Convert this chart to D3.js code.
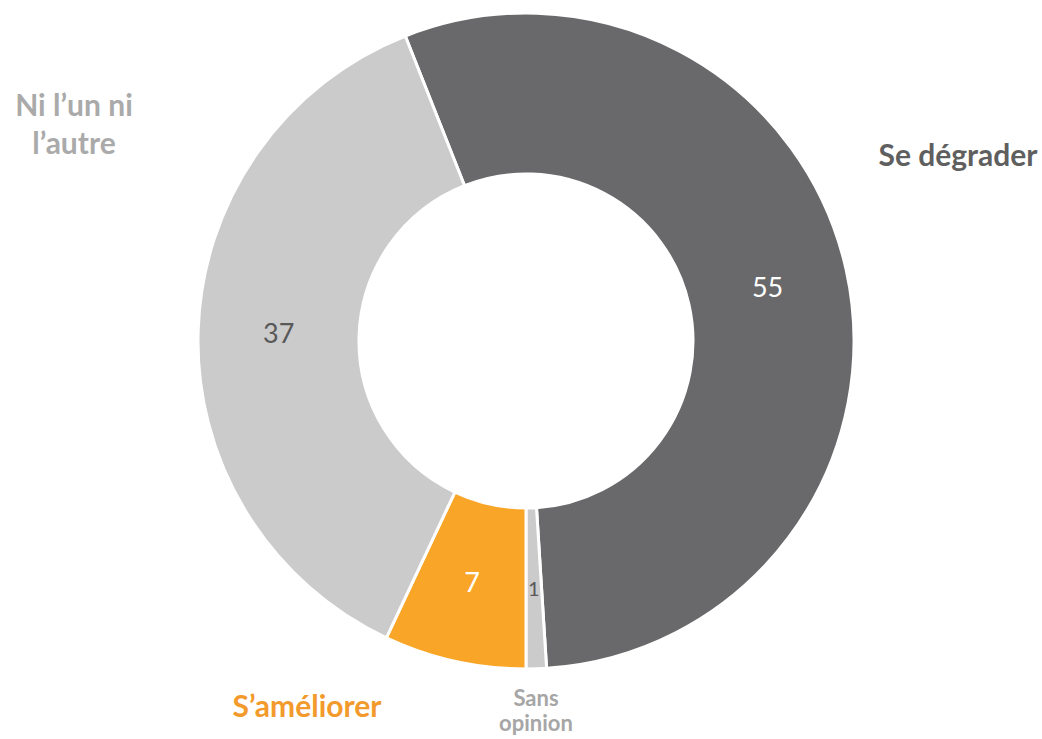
<!DOCTYPE html>
<html>
<head>
<meta charset="utf-8">
<script src="https://cdn.jsdelivr.net/npm/d3@7"></script>
<style>
html,body{margin:0;padding:0;background:#fff;}
svg{display:block;}
</style>
</head>
<body>
<svg id="chart" width="1042" height="739"></svg>
<script>
const categories = ["Se dégrader", "Sans opinion", "S’améliorer", "Ni l’un ni l’autre"];
const values = [55, 1, 7, 37];
const sliceColors = ["#69696b", "#cbcbcb", "#f9a628", "#cbcbcb"];
const valueColors = ["#ffffff", "#595959", "#ffffff", "#595959"];
const labelLines = [["Se dégrader"], ["Sans", "opinion"], ["S’améliorer"], ["Ni l’un ni", "l’autre"]];
const labelColors = ["#5f5f5f", "#a6a6a6", "#f39a2c", "#aaaaaa"];

const W = 1042, H = 739;
const cx = 526, cy = 341, outerR = 328, innerR = 167;
const startDeg = -21.6;

const svg = d3.select("#chart");
const g = svg.append("g").attr("transform", `translate(${cx},${cy})`);

const pie = d3.pie().sort(null).value(d => d)
  .startAngle(startDeg * Math.PI / 180)
  .endAngle((startDeg + 360) * Math.PI / 180);
const arcs = pie(values);
const arc = d3.arc().innerRadius(innerR).outerRadius(outerR);

g.selectAll("path.slice").data(arcs).enter().append("path")
  .attr("class", "slice")
  .attr("d", arc)
  .attr("fill", (d, i) => sliceColors[i])
  .attr("stroke", "#ffffff")
  .attr("stroke-width", 3)
  .attr("stroke-linejoin", "miter");

g.selectAll("text.val").data(arcs).enter().append("text")
  .attr("class", "val")
  .attr("x", d => arc.centroid(d)[0])
  .attr("y", d => arc.centroid(d)[1])
  .attr("dy", "0.36em")
  .attr("text-anchor", "middle")
  .attr("font-family", "Lato, 'Open Sans', sans-serif")
  .attr("font-size", (d, i) => i === 1 ? 20 : 27)
  .attr("fill", (d, i) => valueColors[i])
  .text(d => d.value);

// outside category labels (positions in page coordinates)
const labelPos = [
  {x: 958, y: 166, size: 30, lh: 38},
  {x: 536, y: 706, size: 22, lh: 25},
  {x: 307, y: 717, size: 30, lh: 38},
  {x: 74, y: 116, size: 30, lh: 38}
];

labelLines.forEach((lines, i) => {
  const p = labelPos[i];
  const t = svg.append("text")
    .attr("text-anchor", "middle")
    .attr("font-family", "Lato, 'Open Sans', sans-serif")
    .attr("font-weight", "bold")
    .attr("font-size", p.size)
    .attr("fill", labelColors[i]);
  lines.forEach((ln, j) => {
    t.append("tspan").attr("x", p.x).attr("y", p.y + j * p.lh).text(ln);
  });
});
</script>
</body>
</html>
